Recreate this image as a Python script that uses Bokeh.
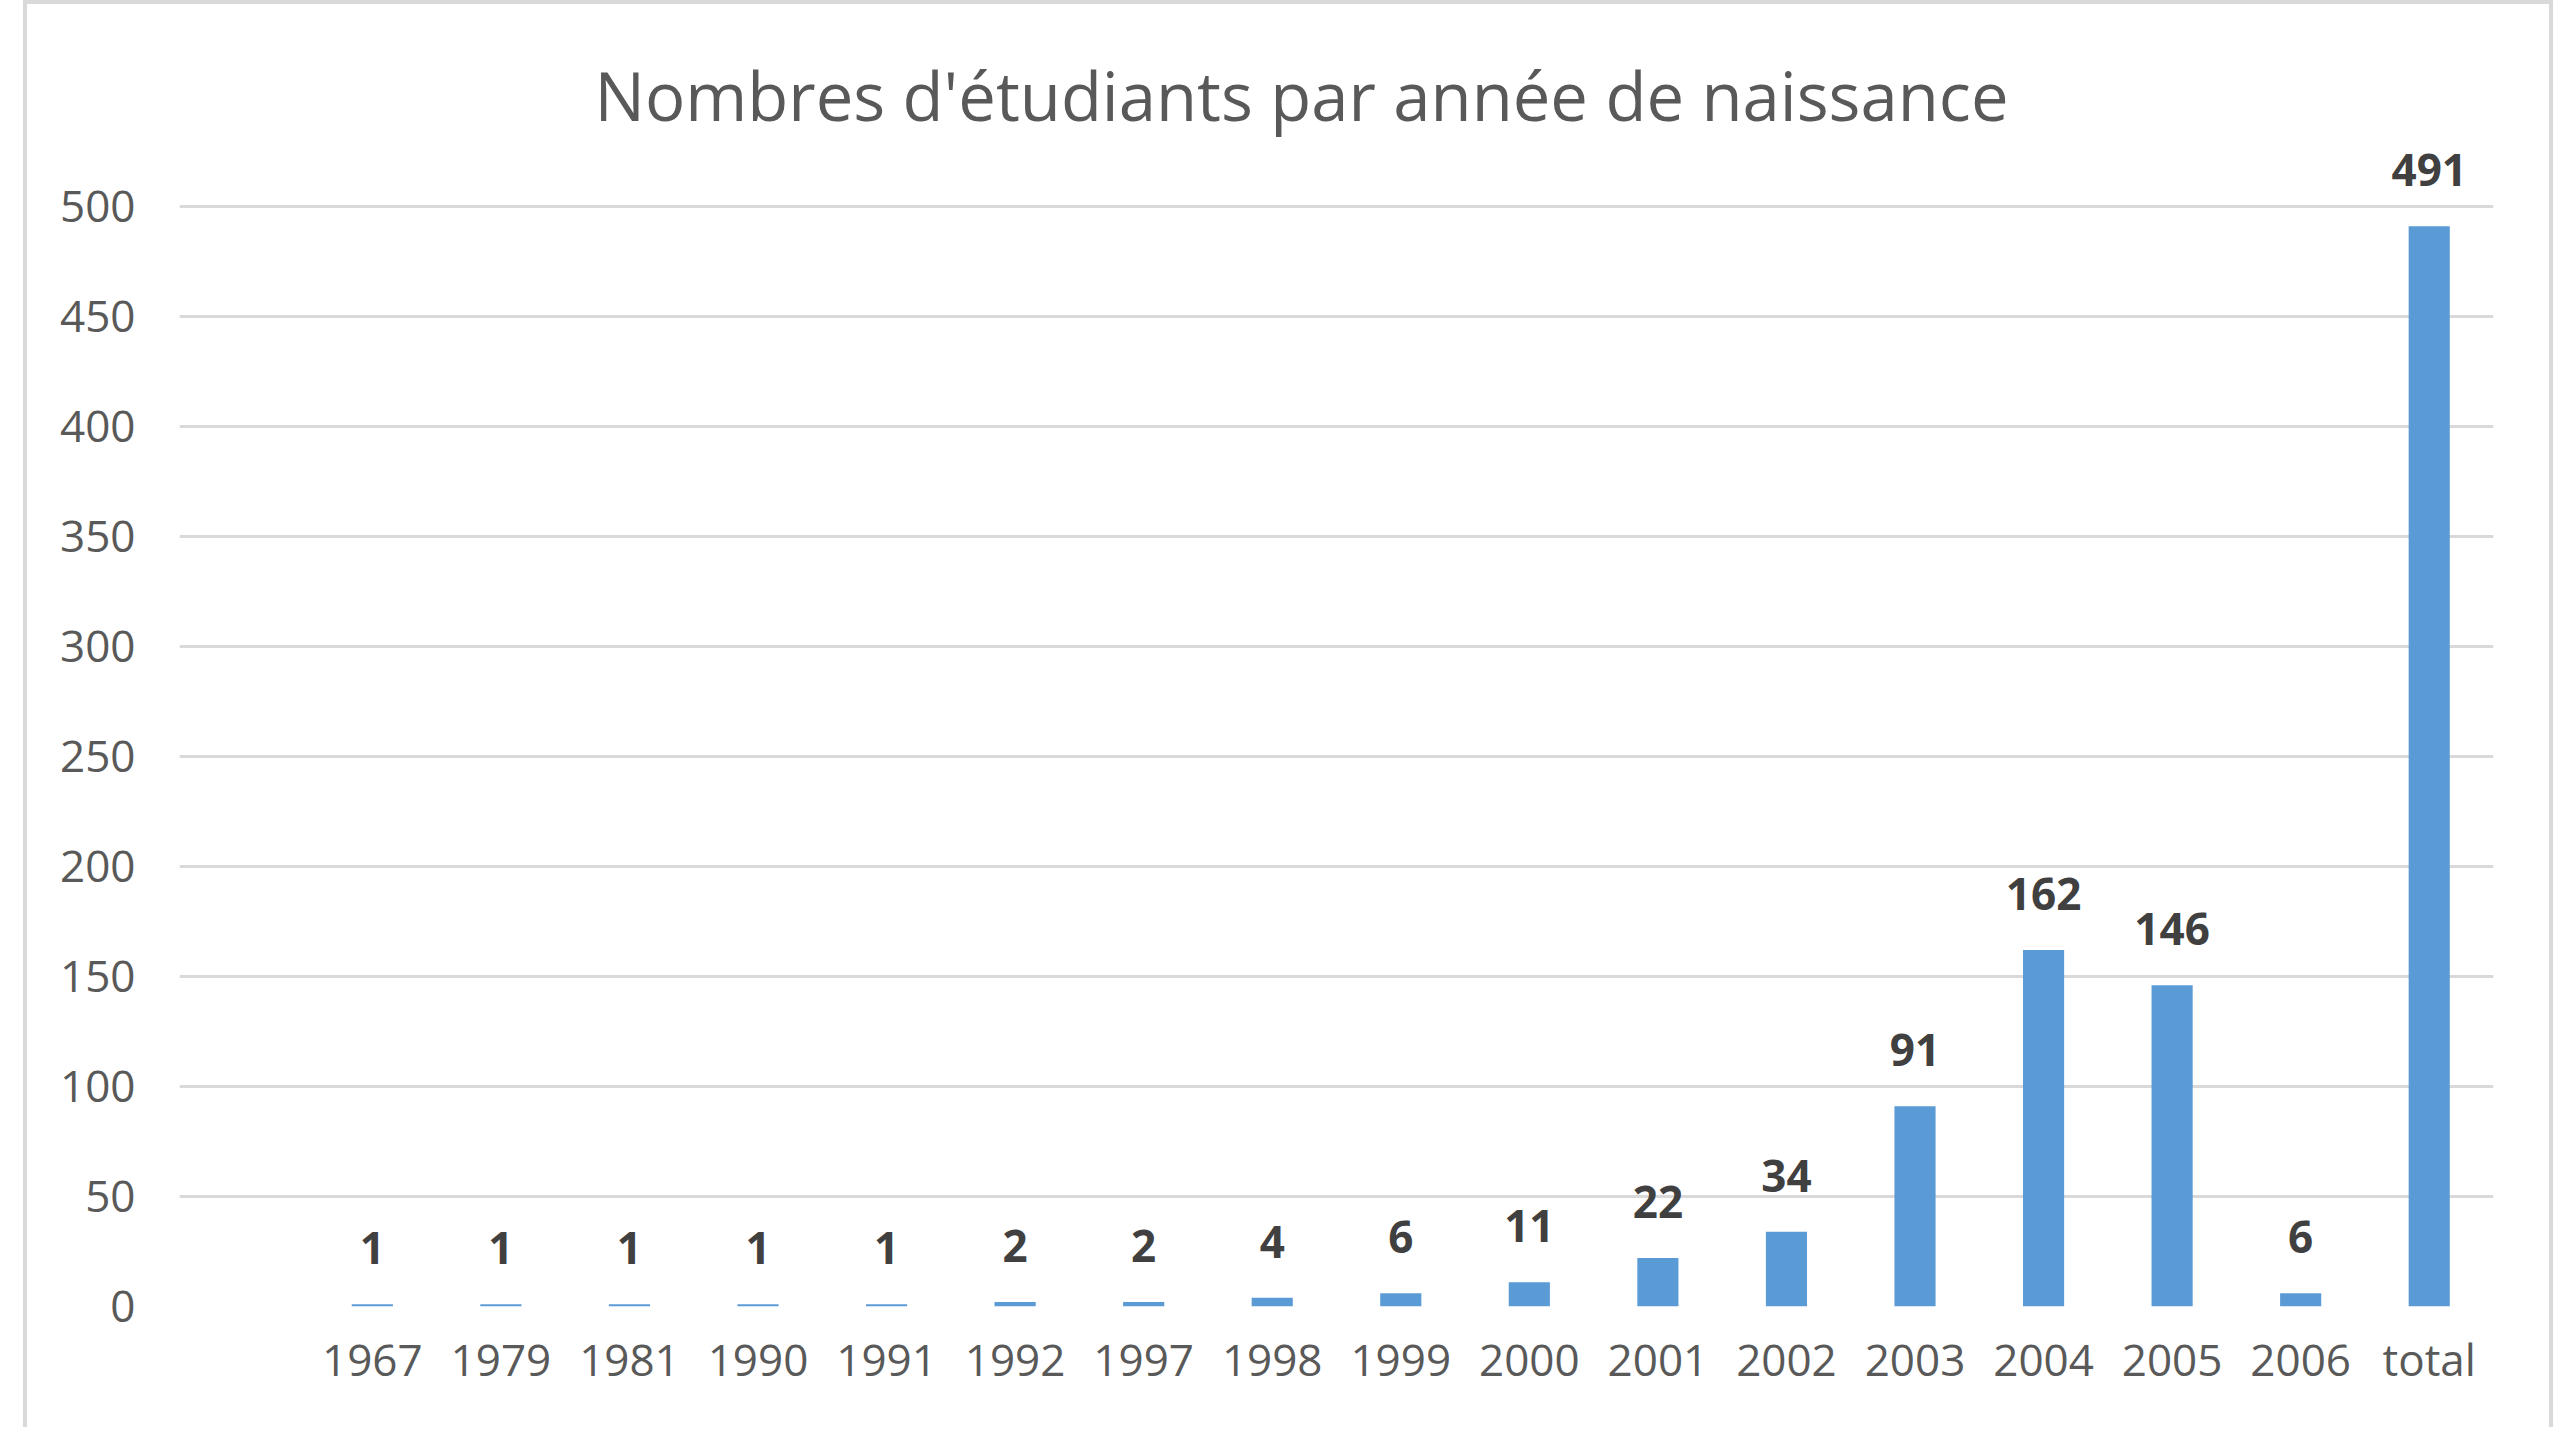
from bokeh.plotting import figure
from bokeh.models import ColumnDataSource, FactorRange, Range1d, FixedTicker, LabelSet
from bokeh.core.properties import value
from bokeh.embed import file_html
from bokeh.resources import INLINE

# ---- data ----
title_text = "Nombres d'étudiants par année de naissance"
blank_category = " "
years = ["1967", "1979", "1981", "1990", "1991", "1992", "1997", "1998", "1999",
         "2000", "2001", "2002", "2003", "2004", "2005", "2006", "total"]
counts = [1, 1, 1, 1, 1, 2, 2, 4, 6, 11, 22, 34, 91, 162, 146, 6, 491]
y_ticks = [0, 50, 100, 150, 200, 250, 300, 350, 400, 450, 500]

factors = [blank_category] + years

src = ColumnDataSource(dict(x=years, top=counts, lbl=[str(c) for c in counts]))

W, H = 2530, 1427
p = figure(x_range=FactorRange(*factors), y_range=Range1d(0, 530),
           width=W, height=H, output_backend="svg", toolbar_location=None,
           min_border_left=152, min_border_right=64, min_border_top=136, min_border_bottom=125)
p.margin = (0, 0, -8, 23)
p.styles = {"border-top": "4px solid #d9d9d9",
            "border-left": "4px solid #d9d9d9",
            "border-right": "4px solid #d9d9d9"}
p.outline_line_color = None
p.background_fill_color = "white"
p.border_fill_color = "white"

p.title.text = title_text
p.title.align = "left"
p.title.offset = 415
p.title.text_font = "Open Sans"
p.title.text_font_size = "67px"
p.title.text_font_style = "normal"
p.title.text_color = "#595959"
p.title.vertical_align = "bottom"
p.title.standoff = 0

p.vbar(x="x", top="top", width=0.32, source=src, fill_color="#5b9bd5", line_color=None)

p.xgrid.grid_line_color = None
p.ygrid.grid_line_color = "#d9d9d9"
p.ygrid.grid_line_width = 3
p.yaxis.ticker = FixedTicker(ticks=y_ticks)

for ax in (p.xaxis, p.yaxis):
    ax.axis_line_color = None
    ax.major_tick_line_color = None
    ax.minor_tick_line_color = None
    ax.major_tick_out = 0
    ax.major_tick_in = 0
    ax.major_label_text_font = "Open Sans"
    ax.major_label_text_font_size = "44px"
    ax.major_label_text_color = "#595959"
p.xaxis.major_label_standoff = 22
p.yaxis.major_label_standoff = 44

labels = LabelSet(x="x", y="top", text="lbl", source=src, y_offset=40,
                  text_align="center", text_baseline="alphabetic",
                  text_font=value("Open Sans"), text_font_size="44px",
                  text_font_style="bold", text_color="#404040")
p.add_layout(labels)

open("out.html", "w").write(file_html(p, INLINE))
